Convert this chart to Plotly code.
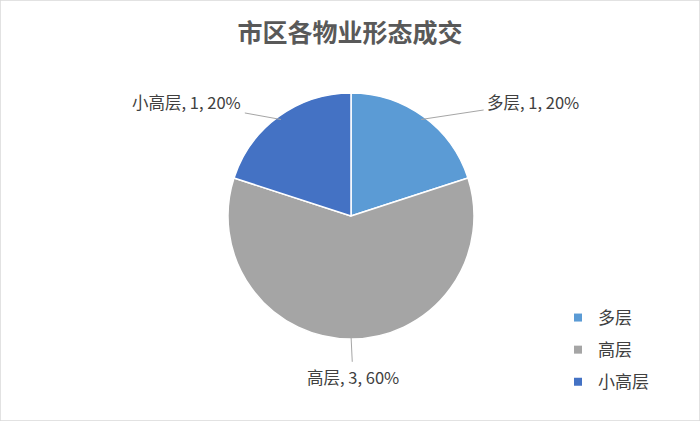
import math
import plotly.graph_objects as go

labels = ["多层", "高层", "小高层"]
values = [1, 3, 1]
colors = ["#5B9BD5", "#A5A5A5", "#4472C4"]

W, H = 700, 421
cx, cy, r = 351, 216, 123

# label offsets (px) from slice edge point: style/layout constants
label_offsets = [(112, -17), (2, 42), (-94, -17)]

fig = go.Figure()
fig.add_trace(go.Pie(
    labels=labels, values=values, sort=False, direction="clockwise", rotation=0,
    marker=dict(colors=colors, line=dict(color="white", width=1.5)),
    textinfo="none", hoverinfo="label+value+percent", showlegend=False,
    domain=dict(x=[(cx - r) / W, (cx + r) / W], y=[(H - cy - r) / H, (H - cy + r) / H]),
))

# legend entries
for i, (lab, col) in enumerate(zip(labels, colors)):
    fig.add_trace(go.Scatter(
        x=[None], y=[None], mode="markers", name=lab, legendgroup=f"g{i}",
        marker=dict(symbol="square", size=8, color=col),
    ))

total = sum(values)
acc = 0
for lab, v, (ox, oy) in zip(labels, values, label_offsets):
    mid = (acc + v / 2) / total * 2 * math.pi
    acc += v
    px = cx + r * 0.97 * math.sin(mid)
    py = cy - r * 0.97 * math.cos(mid)
    pct = round(v / total * 100)
    fig.add_annotation(
        x=px / W, y=(H - py) / H, xref="paper", yref="paper",
        text=f"{lab}, {v}, {pct}%", showarrow=True, arrowhead=0, arrowwidth=1,
        arrowcolor="#A6A6A6", ax=ox, ay=oy, standoff=0, startstandoff=2,
        font=dict(size=16.5, color="#404040", family="Noto Sans CJK SC"),
    )

fig.add_shape(type="rect", xref="paper", yref="paper", x0=0, y0=0, x1=1, y1=1,
              line=dict(color="#D9D9D9", width=1.5))

fig.update_layout(
    width=W, height=H, margin=dict(l=0, r=0, t=0, b=0),
    paper_bgcolor="white", plot_bgcolor="white",
    xaxis=dict(visible=False), yaxis=dict(visible=False),
    title=dict(text="市区各物业形态成交", x=0.5, xanchor="center", y=(H - 33) / H, yanchor="middle",
               font=dict(size=25, color="#595959", family="Noto Sans CJK SC", weight="bold")),
    legend=dict(x=558 / W, y=(H - 300) / H, xanchor="left", yanchor="top",
                font=dict(size=17, color="#404040", family="Noto Sans CJK SC"),
                bgcolor="rgba(0,0,0,0)", tracegroupgap=7),
    font=dict(family="Noto Sans CJK SC"),
)
fig.write_html("out.html", config={"displayModeBar": False})

with open("out.html", encoding="utf-8") as f:
    html = f.read()
html = html.replace("<head>", "<head><style>html,body{margin:0;padding:0;overflow:hidden;}</style>", 1)
with open("out.html", "w", encoding="utf-8") as f:
    f.write(html)
